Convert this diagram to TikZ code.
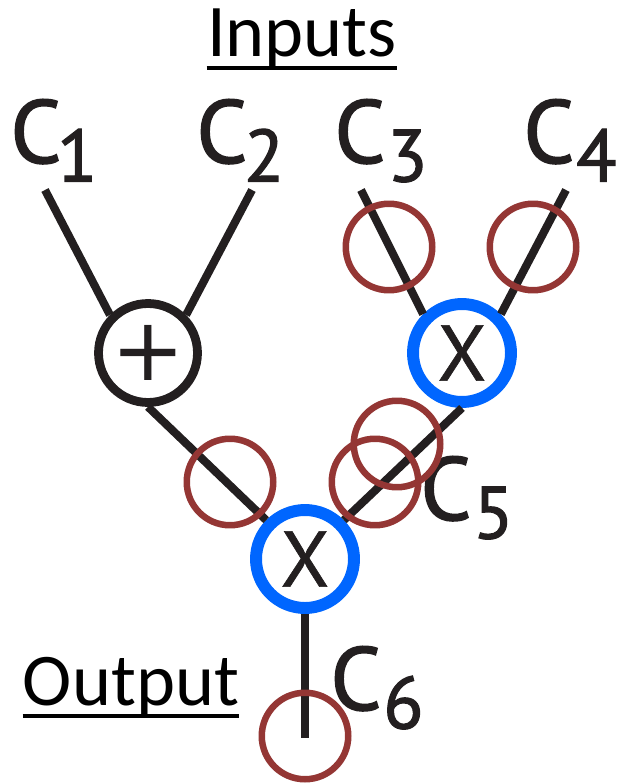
\documentclass[tikz,border=0pt]{standalone}
\usepackage{fontspec}
\setmainfont{PT Sans}
\newfontfamily\calfont{Carlito}
\newfontfamily\labfont{PT Sans}[FakeBold=1.6]
\newfontfamily\opfont{PT Sans}[FakeBold=0.8]
\newfontfamily\symfont{DejaVu Sans}
\usetikzlibrary{calc}
\definecolor{ink}{RGB}{35,31,32}
\definecolor{opblue}{RGB}{0,102,255}
\definecolor{tagred}{RGB}{148,54,52}
\newcommand{\cvar}[2][1pt]{{\labfont\fontsize{51}{51}\selectfont C\kern#1\raisebox{-10.5pt}{\fontsize{42}{42}\selectfont #2}}}
\begin{document}
\begin{tikzpicture}[x=0.02cm, y=-0.02cm,
    wire/.style={ink, line width=4.6pt},
    addop/.style={circle, draw=ink, line width=5pt, fill=white, minimum size=1.98cm, inner sep=0pt, text=ink},
    mulop/.style={circle, draw=opblue, line width=6.8pt, fill=white, minimum size=1.96cm, inner sep=0pt, text=ink},
    tag/.style={circle, draw=tagred, line width=3.7pt, minimum size=1.73cm, inner sep=0pt},
    clabel/.style={anchor=base west, inner sep=0pt, text=ink},
    heading/.style={anchor=base, inner sep=0pt, font=\calfont\fontsize{42.3}{42.3}\selectfont},
    uline/.style={line width=2.3pt}]
    \useasboundingbox (0,0) rectangle (618,783);
    \node[heading] (inputs) at (302,57) {Inputs};
    \node[heading] (output) at (131,705) {Output};
    \draw[uline] ($(inputs.base west)+(0,11)$) -- ($(inputs.base east)+(0,11)$);
    \draw[uline] ($(output.base west)+(0,11)$) -- ($(output.base east)+(0,11)$);
    \node[clabel] (c1) at (10,163) {\cvar[-2.5pt]{1}};
    \node[clabel] (c2) at (196,163) {\cvar[-2pt]{2}};
    \node[clabel] (c3) at (334,163) {\cvar{3}};
    \node[clabel] (c4) at (523,163) {\cvar{4}};
    \node[clabel] (c5) at (420,520) {\cvar{5}};
    \node[clabel] (c6) at (330,710) {\cvar{6}};
    % operations
    \node[addop] (plus) at (148,353) {\symfont\fontsize{50}{50}\selectfont +};
    \node[mulop] (topx) at (462,353) {\opfont\fontsize{45}{45}\selectfont X};
    \node[mulop] (botx) at (305,559) {\opfont\fontsize{45}{45}\selectfont X};
    \coordinate (in1) at (45,190);
    \coordinate (in2) at (252,190);
    \coordinate (in3) at (361,190);
    \coordinate (in4) at (566,190);
    \coordinate (out) at (305,738);
    \draw[wire] (in1) -- (plus.135);
    \draw[wire] (in2) -- (plus.45);
    \draw[wire] (in3) -- (topx.135);
    \draw[wire] (in4) -- (topx.45);
    \draw[wire] (plus.south) -- (botx.135);
    \draw[wire] (topx.south) -- (botx.45);
    \draw[wire] (botx.south) -- (out);
    % red rings
    \node[tag] (r3) at (389,247) {};
    \node[tag] (r4) at (533,247) {};
    \node[tag] (rl) at (230,482) {};
    \node[tag] (ru) at (397,444) {};
    \node[tag] (rd) at (375,482) {};
    \node[tag] (r6) at (305,736) {};
\end{tikzpicture}
\end{document}
